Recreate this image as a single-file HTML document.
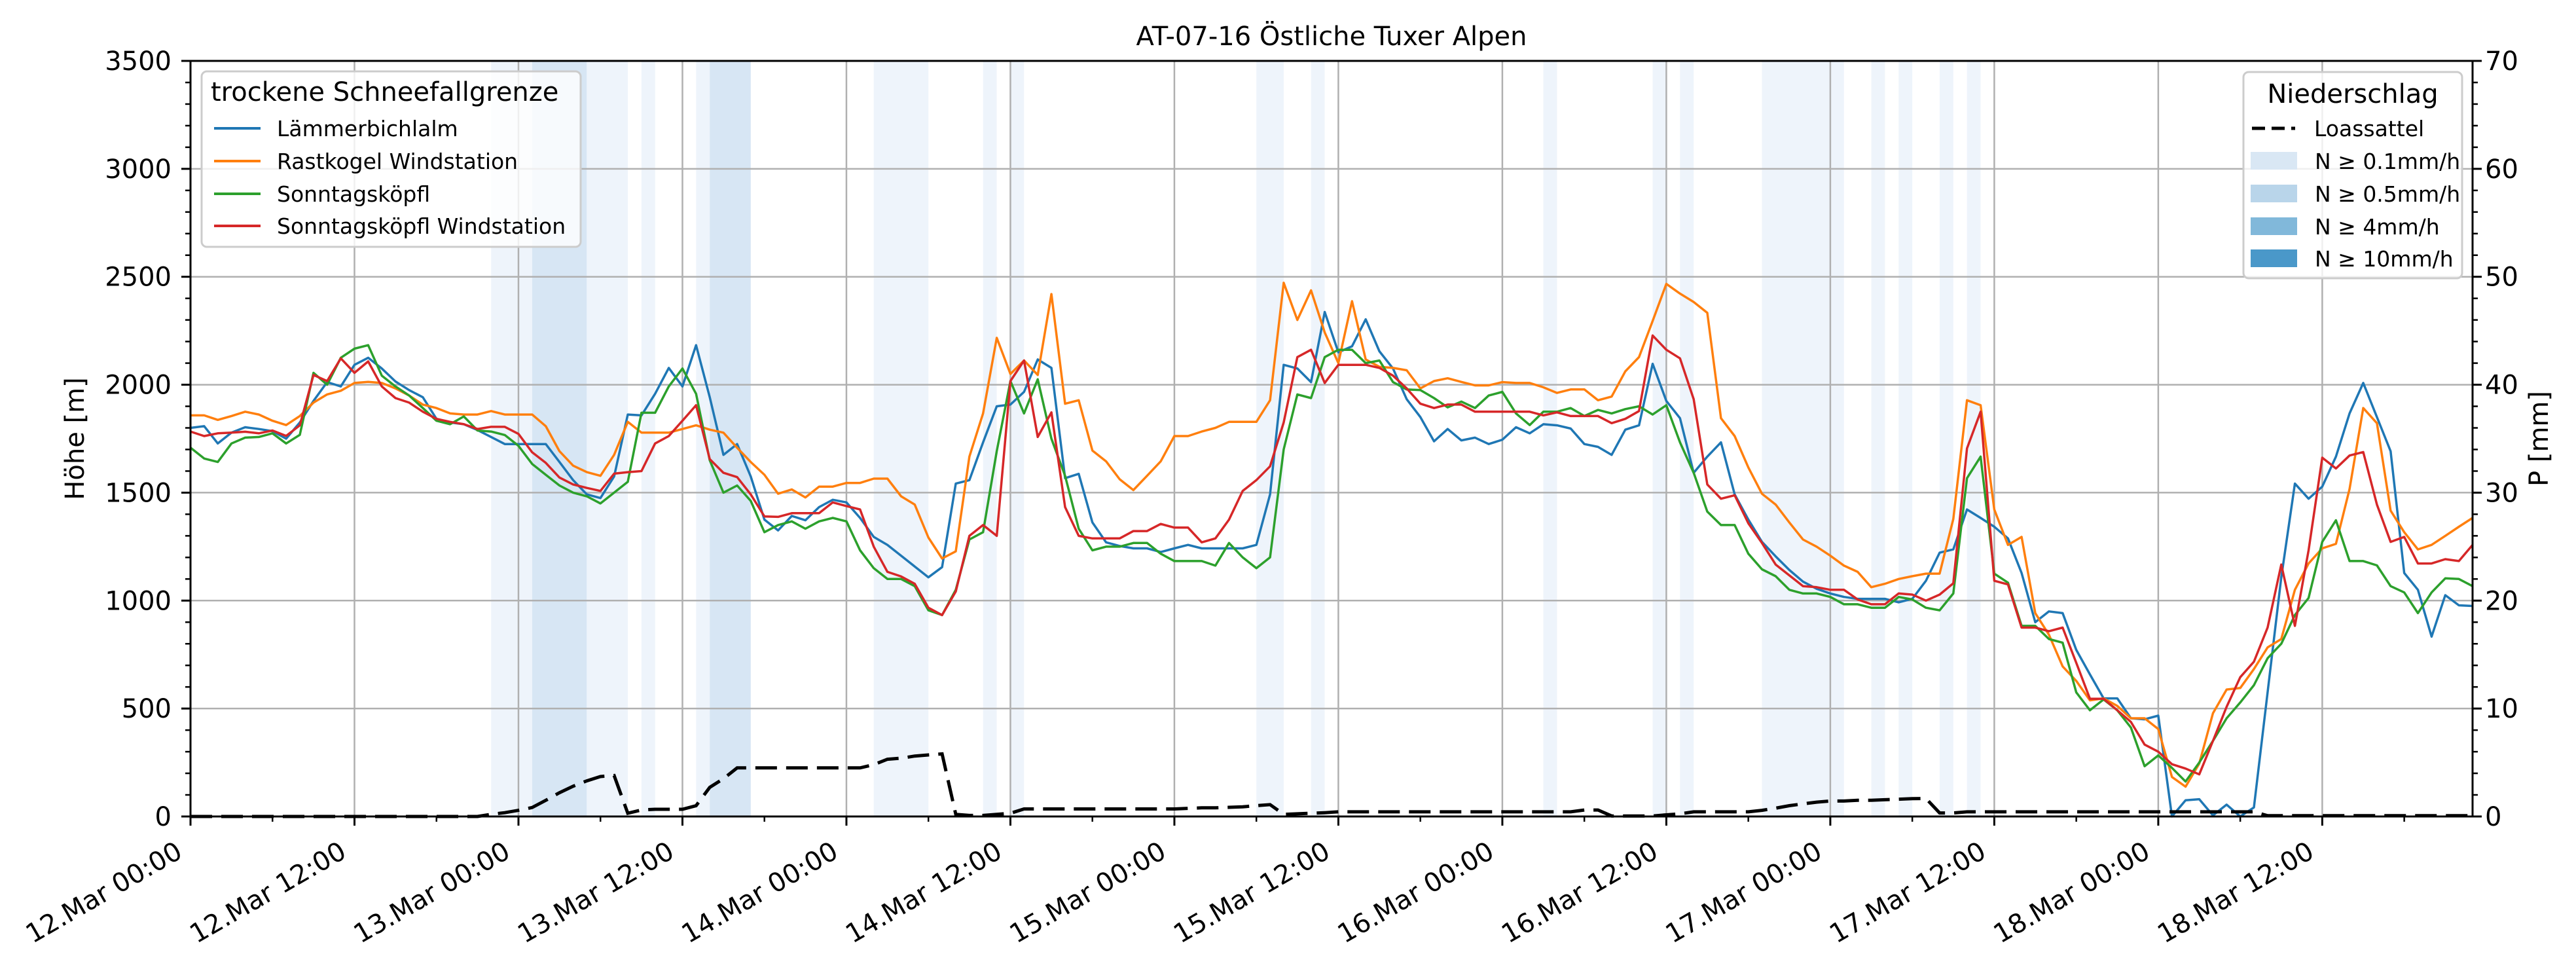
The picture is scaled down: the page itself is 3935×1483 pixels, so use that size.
<!DOCTYPE html>
<html><head><meta charset="utf-8">
<style>
html,body{margin:0;padding:0;background:#fff;}
svg{display:block;font-family:"DejaVu Sans","Liberation Sans",sans-serif;}
</style></head>
<body>
<svg id="chart" xmlns="http://www.w3.org/2000/svg" width="3935" height="1483" viewBox="0 0 3935 1483">
<rect x="0" y="0" width="3935" height="1483" fill="#fff"/>
<g id="spans"></g>
<g id="grid"></g>
<g id="series"></g>
<g id="axes"></g>
<text x="2034" y="69" font-size="40" text-anchor="middle">AT-07-16 Östliche Tuxer Alpen</text>
<text transform="translate(128,670) rotate(-90)" font-size="40" text-anchor="middle">Höhe [m]</text>
<text transform="translate(3892,670) rotate(-90)" font-size="40" text-anchor="middle">P [mm]</text>

<g>
<rect x="308" y="109" width="579" height="268" rx="8" fill="#fff" fill-opacity="0.8" stroke="#cccccc" stroke-width="3"/>
<text x="322" y="154" font-size="40">trockene Schneefallgrenze</text>
<g><line x1="327" y1="196" x2="398" y2="196" stroke="#1f77b4" stroke-width="4"/><text x="423" y="208" font-size="33">Lämmerbichlalm</text></g>
<g><line x1="327" y1="246" x2="398" y2="246" stroke="#ff7f0e" stroke-width="4"/><text x="423" y="258" font-size="33">Rastkogel Windstation</text></g>
<g><line x1="327" y1="296" x2="398" y2="296" stroke="#2ca02c" stroke-width="4"/><text x="423" y="308" font-size="33">Sonntagsköpfl</text></g>
<g><line x1="327" y1="345" x2="398" y2="345" stroke="#d62728" stroke-width="4"/><text x="423" y="357" font-size="33">Sonntagsköpfl Windstation</text></g>
</g>

<g>
<rect x="3427" y="110" width="334" height="315" rx="8" fill="#fff" fill-opacity="0.8" stroke="#cccccc" stroke-width="3"/>
<text x="3594" y="157" font-size="40" text-anchor="middle">Niederschlag</text>
<g><line x1="3440" y1="196" x2="3506" y2="196" stroke="#000" stroke-width="5" stroke-dasharray="20 10"/><text x="3535" y="208" font-size="33">Loassattel</text></g>
<g><rect x="3438" y="232" width="71" height="27" fill="#d9e7f4"/><text x="3536" y="258" font-size="33">N ≥ 0.1mm/h</text></g>
<g><rect x="3438" y="282" width="71" height="27" fill="#b9d5ea"/><text x="3536" y="308" font-size="33">N ≥ 0.5mm/h</text></g>
<g><rect x="3438" y="332" width="71" height="27" fill="#81b8da"/><text x="3536" y="358" font-size="33">N ≥ 4mm/h</text></g>
<g><rect x="3438" y="381" width="71" height="27" fill="#4a98c9"/><text x="3536" y="407" font-size="33">N ≥ 10mm/h</text></g>
</g>
</svg>
<script>
// ---- data (hourly, starting 12.Mar 00:00) ----
const seriesNames = ["Lämmerbichlalm","Rastkogel Windstation","Sonntagsköpfl","Sonntagsköpfl Windstation"];
const seriesColors = ["#1f77b4","#ff7f0e","#2ca02c","#d62728"];
const laemmerbichlalm = [1800,1808,1728,1778,1803,1795,1785,1750,1825,1925,
2012,1992,2092,2125,2075,2015,1975,1942,1842,1825,
1817,1790,1758,1725,1725,1725,1725,1642,1558,1492,
1475,1575,1862,1858,1958,2078,1992,2183,1942,1675,
1725,1575,1375,1325,1392,1372,1433,1467,1455,1383,
1295,1258,1208,1158,1108,1155,1542,1558,1733,1900,
1908,1967,2117,2078,1567,1587,1362,1270,1253,1242,
1242,1225,1242,1258,1242,1242,1242,1242,1258,1492,
2092,2075,2012,2337,2150,2178,2303,2155,2075,1933,
1850,1738,1795,1742,1755,1725,1745,1803,1775,1817,
1812,1797,1725,1712,1675,1792,1812,2097,1925,1845,
1592,1667,1733,1492,1375,1272,1205,1142,1088,1055,
1033,1017,1008,1008,1008,992,1008,1092,1222,1237,
1422,1383,1342,1288,1128,900,950,942,772,658,
547,547,455,450,467,0,75,80,5,55,
0,42,575,1108,1542,1472,1528,1667,1867,2008,
1850,1692,1128,1050,833,1025,978,975];
const rastkogel = [1858,1858,1837,1855,1875,1862,1833,1813,1855,1917,
1955,1972,2008,2013,2008,1983,1950,1908,1892,1867,
1862,1862,1878,1862,1862,1862,1808,1692,1625,1595,
1578,1675,1828,1778,1778,1778,1795,1812,1792,1778,
1708,1642,1583,1495,1515,1478,1528,1528,1545,1545,
1565,1565,1483,1445,1292,1195,1228,1667,1867,2217,
2050,2112,2045,2420,1912,1928,1695,1645,1562,1512,
1578,1645,1762,1762,1783,1800,1828,1828,1828,1928,
2472,2300,2437,2242,2100,2387,2117,2083,2078,2067,
1983,2017,2030,2013,1997,1997,2012,2008,2008,1988,
1962,1978,1978,1928,1945,2062,2128,2295,2467,2422,
2383,2333,1845,1762,1617,1495,1445,1362,1283,1250,
1208,1162,1133,1062,1078,1100,1113,1125,1125,1378,
1928,1905,1422,1258,1295,942,842,695,628,538,
547,512,455,455,405,183,138,245,478,588,
595,683,783,822,1050,1172,1242,1263,1517,1892,
1822,1417,1317,1237,1258,1300,1342,1383];
const sonntagskoepfl = [1708,1658,1642,1728,1755,1758,1775,1728,1768,2055,
2000,2125,2167,2183,2042,1992,1950,1892,1833,1817,
1853,1788,1783,1767,1717,1633,1583,1533,1500,1483,
1450,1500,1550,1870,1870,1992,2075,1958,1650,1500,
1533,1462,1317,1350,1367,1333,1367,1383,1367,1233,
1150,1100,1100,1067,955,933,1050,1283,1317,1692,
2017,1867,2025,1750,1578,1333,1233,1250,1250,1267,
1267,1217,1183,1183,1183,1162,1267,1200,1150,1200,
1700,1955,1938,2128,2162,2162,2100,2112,2012,1978,
1975,1938,1895,1922,1892,1950,1967,1867,1813,1875,
1875,1892,1855,1883,1867,1887,1900,1862,1905,1733,
1592,1412,1350,1350,1217,1145,1113,1050,1033,1033,
1017,983,983,967,967,1017,1005,967,955,1033,
1567,1667,1125,1083,883,883,822,805,575,492,
542,492,412,233,283,225,162,250,350,455,
528,608,733,800,933,1012,1272,1372,1183,1183,
1163,1067,1038,942,1038,1103,1100,1067];
const sonntagsWind = [1783,1762,1775,1778,1782,1775,1788,1763,1812,2045,
2017,2122,2055,2108,1992,1938,1917,1875,1842,1828,
1817,1795,1805,1805,1772,1687,1638,1570,1538,1522,
1508,1588,1595,1600,1728,1762,1833,1905,1655,1592,
1572,1492,1390,1388,1405,1405,1405,1455,1438,1422,
1250,1133,1112,1078,967,933,1042,1300,1350,1300,
2017,2112,1758,1872,1433,1300,1288,1288,1288,1322,
1322,1355,1338,1338,1270,1288,1375,1508,1558,1622,
1825,2128,2162,2008,2092,2092,2092,2078,2042,1983,
1912,1892,1908,1908,1875,1875,1875,1875,1875,1858,
1872,1855,1855,1855,1822,1842,1878,2228,2162,2122,
1933,1538,1472,1488,1358,1267,1167,1117,1067,1062,
1050,1050,1005,983,983,1033,1028,1000,1028,1080,
1705,1875,1092,1075,875,875,858,875,712,545,
545,492,438,333,300,242,222,195,350,508,
645,717,875,1167,883,1233,1662,1612,1672,1688,
1445,1272,1295,1172,1172,1192,1183,1258];
const loassattelMm = [0,0,0,0,0,0,0,0,0,0,0,0,0,0,0,0,0,0,0,0,0,0,
0.2,0.35,0.57,0.83,1.5,2.2,2.8,3.3,3.7,3.8,
0.3,0.6,0.67,0.67,0.67,1.0,2.7,3.5,4.5,4.5,
4.5,4.5,4.5,4.5,4.5,4.5,4.5,4.5,
4.8,5.3,5.4,5.6,5.7,5.8,
0.2,0.1,0.1,0.2,0.3,0.7,
0.7,0.7,0.7,0.7,0.7,0.7,0.7,0.7,0.7,0.7,0.7,
0.75,0.8,0.8,0.85,0.9,1.0,1.1,
0.2,0.25,0.3,0.35,0.43,
0.43,0.43,0.43,0.43,0.43,0.43,0.43,0.43,0.43,0.43,0.43,0.43,0.43,0.43,0.43,0.43,0.43,
0.6,0.6,0.05,0.05,0.05,0.05,0.15,0.25,0.43,0.43,0.43,0.43,0.43,0.57,0.77,1.0,1.17,1.33,1.43,1.43,1.5,1.5,1.55,1.6,1.65,1.67,
0.33,0.33,
0.43,0.43,0.43,0.43,0.43,0.43,0.43,0.43,0.43,0.43,0.43,0.43,0.43,0.43,0.43,0.43,0.43,0.43,0.43,0.43,0.43,0.43,
0.07,0.07,0.07,0.07,0.07,0.07,0.07,0.07,0.07,0.07,0.07,0.07,0.07,0.07,0.07,0.07];
const precipStart = [22,25,29,33,37,38,50,58,60,78,82,99,107,109,115,123,125,128,130];
const precipEnd   = [25,29,32,34,38,41,54,59,61,80,83,100,108,110,121,124,126,129,131];
const precipLevel = [1,2,1,1,1,2,1,1,1,1,1,1,1,1,1,1,1,1,1];
const xTickLabels = ["12.Mar 00:00","12.Mar 12:00","13.Mar 00:00","13.Mar 12:00","14.Mar 00:00","14.Mar 12:00","15.Mar 00:00","15.Mar 12:00","16.Mar 00:00","16.Mar 12:00","17.Mar 00:00","17.Mar 12:00","18.Mar 00:00","18.Mar 12:00"];
const yTicksLeft = [0,500,1000,1500,2000,2500,3000,3500];
const yTicksRight = [0,10,20,30,40,50,60,70];

// ---- scales ----
const L=291,R=3777,T=93,B=1247,XMAX=167;
const X=h=>L+h*(R-L)/XMAX;
const YL=v=>B-v*(B-T)/3500;
const YR=v=>B-v*(B-T)/70;
const NS="http://www.w3.org/2000/svg";
function mk(tag,attrs,parent){const e=document.createElementNS(NS,tag);for(const k in attrs)e.setAttribute(k,attrs[k]);parent.appendChild(e);return e;}
const gSp=document.getElementById('spans'),gGr=document.getElementById('grid'),gSe=document.getElementById('series'),gAx=document.getElementById('axes');

precipStart.forEach((s,i)=>{
  const r=mk('rect',{x:X(s),y:T,width:X(precipEnd[i])-X(s),height:B-T,fill:precipLevel[i]==2?'#d7e6f4':'#eef4fb'},gSp);
  
  
});
// grid
xTickLabels.forEach((lab,i)=>{
  const l=mk('line',{x1:X(i*12),x2:X(i*12),y1:T,y2:B,stroke:'#b0b0b0','stroke-width':2.5},gGr);
  
  
});
yTicksLeft.forEach(v=>{
  const l=mk('line',{x1:L,x2:R,y1:YL(v),y2:YL(v),stroke:'#b0b0b0','stroke-width':2.5},gGr);
  
  
});
// series
[laemmerbichlalm,rastkogel,sonntagskoepfl,sonntagsWind].forEach((arr,si)=>{
  const p=mk('polyline',{points:arr.map((v,h)=>X(h).toFixed(1)+','+YL(v).toFixed(1)).join(' '),fill:'none',stroke:seriesColors[si],'stroke-width':3.5,'stroke-linejoin':'round'},gSe);
  
  
});
const lp=mk('polyline',{points:loassattelMm.map((v,h)=>X(h).toFixed(1)+','+YR(v).toFixed(1)).join(' '),fill:'none',stroke:'#000','stroke-width':5,'stroke-dasharray':'33 14'},gSe);


// spines
const sp=mk('rect',{x:L,y:T,width:R-L,height:B-T,fill:'none',stroke:'#000','stroke-width':3},gAx);


// x ticks
for(let h=0;h<=XMAX;h+=6){
  const major=h%12===0;
  const t=mk('line',{x1:X(h),x2:X(h),y1:B,y2:B+(major?14:8),stroke:'#000','stroke-width':major?3:2.5},gAx);
  
  
}
xTickLabels.forEach((lab,i)=>{
  const px=X(i*12)-10,py=1308;
  const t=mk('text',{transform:`translate(${px},${py}) rotate(-30)`,'text-anchor':'end','font-size':40},gAx);
  t.textContent=lab;
  
  
});
// left y ticks
for(let v=0;v<=3500;v+=100){
  const major=v%500===0;
  const t=mk('line',{x1:L-(major?14:8),x2:L,y1:YL(v),y2:YL(v),stroke:'#000','stroke-width':major?3:2.5},gAx);
  
  
}
yTicksLeft.forEach(v=>{
  const t=mk('text',{x:262,y:YL(v)+14,'text-anchor':'end','font-size':40},gAx);
  t.textContent=String(v);
  
  
});
// right y ticks
for(let v=0;v<=70;v+=2){
  const major=v%10===0;
  const t=mk('line',{x1:R,x2:R+(major?14:8),y1:YR(v),y2:YR(v),stroke:'#000','stroke-width':major?3:2.5},gAx);
  
  
}
yTicksRight.forEach(v=>{
  const t=mk('text',{x:3796,y:YR(v)+14,'text-anchor':'start','font-size':40},gAx);
  t.textContent=String(v);
  
  
});
</script>
</body></html>
